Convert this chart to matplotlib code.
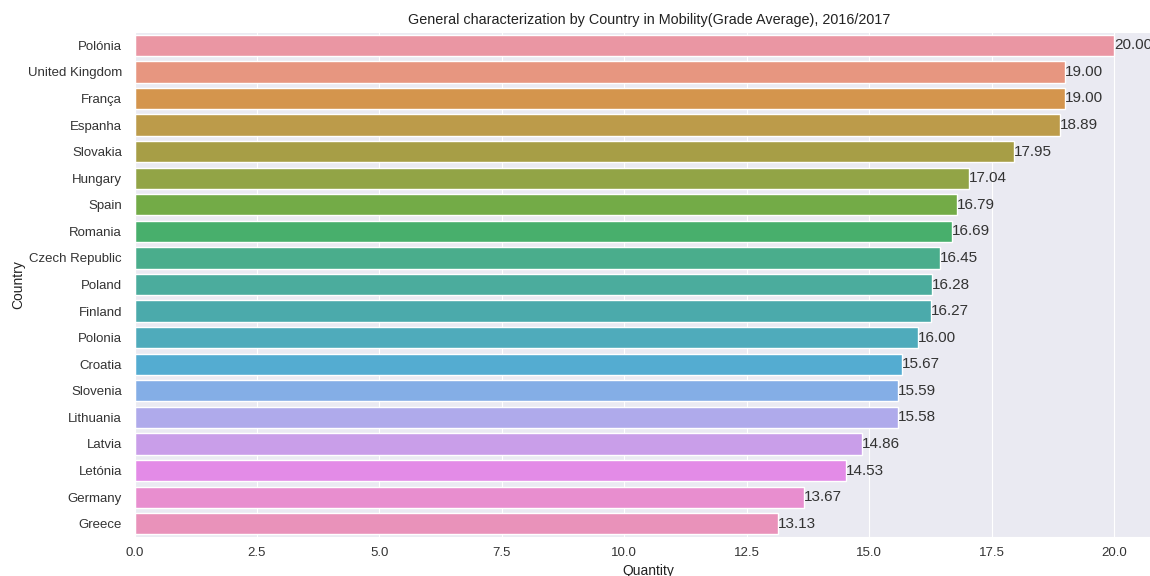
import matplotlib
matplotlib.use("Agg")
import matplotlib.pyplot as plt
import seaborn as sns
import numpy as np

countries = ["Polónia", "United Kingdom", "França", "Espanha", "Slovakia", "Hungary",
             "Spain", "Romania", "Czech Republic", "Poland", "Finland", "Polonia",
             "Croatia", "Slovenia", "Lithuania", "Latvia", "Letónia", "Germany", "Greece"]
values = [20.00, 19.00, 19.00, 18.89, 17.95, 17.04, 16.79, 16.69, 16.45, 16.28,
          16.27, 16.00, 15.67, 15.59, 15.58, 14.86, 14.53, 13.67, 13.13]
title = "General characterization by Country in Mobility(Grade Average), 2016/2017"

sns.set_style("darkgrid")
plt.rcParams['font.family'] = ['Liberation Sans', 'DejaVu Sans']

fig = plt.figure(figsize=(11.5, 5.76), dpi=100)
ax = fig.add_axes([134.5/1150, 39/576, (1163-134.5)/1150, (537-32)/576])

pal = sns.husl_palette(len(countries), l=.7)
sns.barplot(x=values, y=countries, hue=countries, palette=pal, saturation=.75,
            legend=False, ax=ax, orient="h")

for i, v in enumerate(values):
    ax.text(v, i, f"{v:.2f}", va="center", ha="left", fontsize=11, color="#333333")

ax.set_xlim(0, 21)
ax.set_xticks(np.arange(0, 21, 2.5))
ax.set_title(title, fontsize=10.4, color="#222222")
ax.set_xlabel("Quantity", fontsize=10, color="#222222")
ax.set_ylabel("Country", fontsize=10, color="#222222", labelpad=2)
ax.tick_params(labelsize=9.5, colors="#333333")
ax.tick_params(axis="y", pad=5.5)

fig.savefig("out.png", dpi=100)
